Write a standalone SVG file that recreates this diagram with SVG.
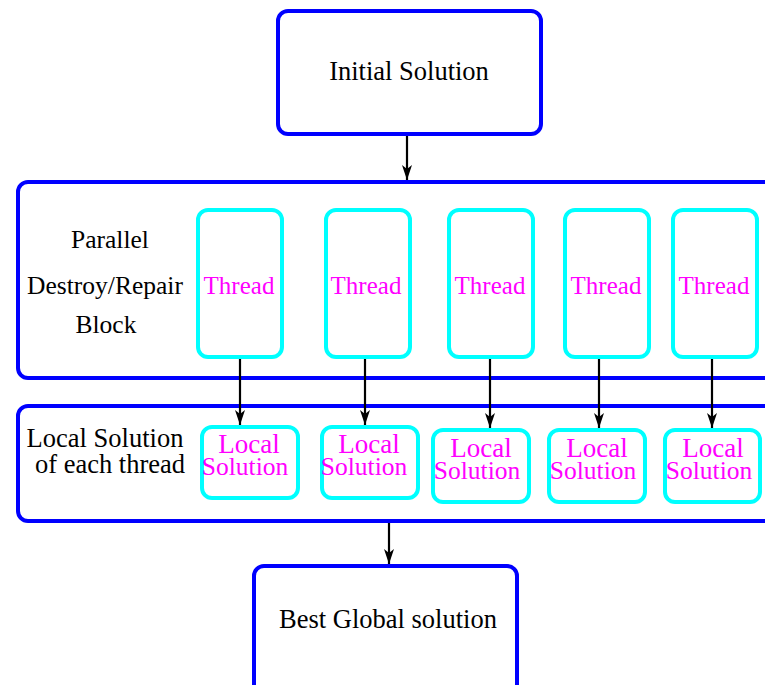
<svg xmlns="http://www.w3.org/2000/svg" width="765" height="685" viewBox="0 0 765 685">
<style>
.big{fill:#fff;stroke:#0000ff;stroke-width:4}
.th{fill:#fff;stroke:#00ffff;stroke-width:4}
.t{font-family:"Liberation Serif","Times New Roman",serif;font-size:26.5px;fill:#000;text-anchor:middle}
.p{font-size:25.5px}
.m{font-family:"Liberation Serif","Times New Roman",serif;font-size:25px;fill:#ff00ff;text-anchor:middle}
.l1{font-size:27px}
.l2{font-size:25.5px}
.conn line{stroke:#000;stroke-width:2.2}
</style>
<defs>
<marker id="a" markerWidth="16" markerHeight="10" refX="15" refY="5" orient="auto" markerUnits="userSpaceOnUse" viewBox="0 0 16 10">
<path d="M0,0 L15,5 L0,10 L4,5 Z" fill="#000"/>
</marker>
</defs>
<g id="initial">
<rect class="big" x="278" y="11" width="263" height="123" rx="10"/>
<text class="t" x="409" y="80">Initial Solution</text>
</g>
<g id="block">
<rect class="big" x="18" y="182" width="780" height="196" rx="10"/>
<text class="t p" x="110" y="248">Parallel</text>
<text class="t p" x="105" y="294">Destroy/Repair</text>
<text class="t p" x="106" y="333">Block</text>
</g>
<g id="thread1"><rect class="th" x="198" y="210" width="84" height="147" rx="10"/><text class="m" x="239" y="294">Thread</text></g>
<g id="thread2"><rect class="th" x="326" y="210" width="84" height="147" rx="10"/><text class="m" x="366" y="294">Thread</text></g>
<g id="thread3"><rect class="th" x="449" y="210" width="84" height="147" rx="10"/><text class="m" x="490" y="294">Thread</text></g>
<g id="thread4"><rect class="th" x="565" y="210" width="84" height="147" rx="10"/><text class="m" x="606" y="294">Thread</text></g>
<g id="thread5"><rect class="th" x="673" y="210" width="84" height="147" rx="10"/><text class="m" x="714" y="294">Thread</text></g>
<g id="localblock">
<rect class="big" x="18" y="406" width="780" height="115" rx="10"/>
<text class="t" x="105" y="447">Local Solution</text>
<text class="t" x="110" y="473">of each thread</text>
</g>
<g id="local1"><rect class="th" x="202" y="427" width="96" height="71" rx="10"/><text class="m l1" x="249" y="453">Local</text><text class="m l2" x="245" y="475">Solution</text></g>
<g id="local2"><rect class="th" x="322" y="427" width="96" height="71" rx="10"/><text class="m l1" x="369" y="453">Local</text><text class="m l2" x="364" y="475">Solution</text></g>
<g id="local3"><rect class="th" x="433" y="430" width="96" height="72" rx="10"/><text class="m l1" x="481" y="457">Local</text><text class="m l2" x="477" y="479">Solution</text></g>
<g id="local4"><rect class="th" x="549" y="430" width="96" height="72" rx="10"/><text class="m l1" x="597" y="457">Local</text><text class="m l2" x="593" y="479">Solution</text></g>
<g id="local5"><rect class="th" x="665" y="430" width="95" height="72" rx="10"/><text class="m l1" x="713" y="457">Local</text><text class="m l2" x="709" y="479">Solution</text></g>
<g id="best">
<rect class="big" x="254" y="566" width="263" height="140" rx="10"/>
<text class="t" x="388" y="628">Best Global solution</text>
</g>
<g id="connectors" class="conn">
<line x1="407" y1="136" x2="407" y2="180" marker-end="url(#a)"/>
<line x1="240" y1="359" x2="240" y2="425" marker-end="url(#a)"/>
<line x1="365" y1="359" x2="365" y2="425" marker-end="url(#a)"/>
<line x1="490" y1="359" x2="490" y2="428" marker-end="url(#a)"/>
<line x1="599" y1="359" x2="599" y2="428" marker-end="url(#a)"/>
<line x1="712" y1="359" x2="712" y2="428" marker-end="url(#a)"/>
<line x1="389" y1="523" x2="389" y2="564" marker-end="url(#a)"/>
</g>
</svg>
